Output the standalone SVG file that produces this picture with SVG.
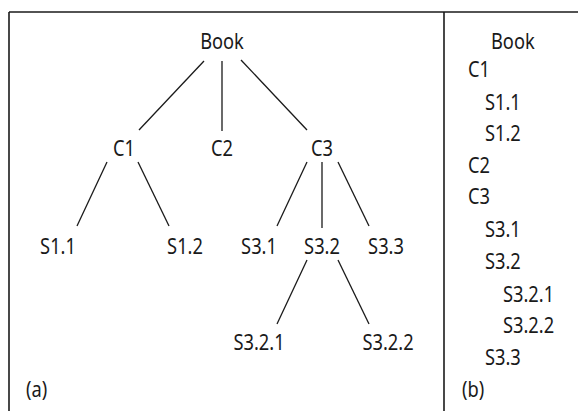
<svg xmlns="http://www.w3.org/2000/svg" width="578" height="411" viewBox="0 0 578 411">
<style>
text{font-family:"Noto Sans","Open Sans",sans-serif;font-size:21px;fill:#1a1a1a}
.m{text-anchor:middle}
line{stroke:#1a1a1a;stroke-width:1.3}
.f{stroke-width:1.6}
</style>
<rect width="578" height="411" fill="#fff"/>
<g id="frame">
<line class="f" x1="9" y1="12" x2="578" y2="12"/>
<line class="f" x1="9" y1="12" x2="9" y2="411"/>
<line class="f" x1="444" y1="12" x2="444" y2="411"/>
</g>
<g id="connectors">
<line x1="204" y1="61" x2="139" y2="130"/>
<line x1="222" y1="61" x2="222" y2="131"/>
<line x1="241" y1="60" x2="307" y2="130"/>
<line x1="107" y1="162" x2="77" y2="226"/>
<line x1="138" y1="162" x2="169" y2="226"/>
<line x1="307" y1="162" x2="277" y2="226"/>
<line x1="322" y1="162" x2="322" y2="228"/>
<line x1="338" y1="162" x2="369" y2="226"/>
<line x1="307" y1="260" x2="277" y2="324"/>
<line x1="338" y1="260" x2="369" y2="324"/>
</g>
<g id="book"><text class="m" transform="translate(222 49) scale(.87 1)">Book</text></g>
<g id="c1"><text class="m" transform="translate(124 156) scale(.87 1)">C1</text></g>
<g id="c2"><text class="m" transform="translate(222 156) scale(.87 1)">C2</text></g>
<g id="c3"><text class="m" transform="translate(322 156) scale(.87 1)">C3</text></g>
<g id="s1_1"><text class="m" transform="translate(58 254) scale(.87 1)">S1.1</text></g>
<g id="s1_2"><text class="m" transform="translate(185 254) scale(.87 1)">S1.2</text></g>
<g id="s3_1"><text class="m" transform="translate(259 254) scale(.87 1)">S3.1</text></g>
<g id="s3_2"><text class="m" transform="translate(322 254) scale(.87 1)">S3.2</text></g>
<g id="s3_3"><text class="m" transform="translate(386 254) scale(.87 1)">S3.3</text></g>
<g id="s3_2_1"><text class="m" transform="translate(259 350) scale(.87 1)">S3.2.1</text></g>
<g id="s3_2_2"><text class="m" transform="translate(388 350) scale(.87 1)">S3.2.2</text></g>
<g id="labels">
<text transform="translate(26 397) scale(.87 1)">(a)</text>
<text transform="translate(462 397) scale(.87 1)">(b)</text>
</g>
<g id="outline">
<text transform="translate(491 49) scale(.87 1)">Book</text>
<text transform="translate(468 77) scale(.87 1)">C1</text>
<text transform="translate(485 110) scale(.87 1)">S1.1</text>
<text transform="translate(485 141) scale(.87 1)">S1.2</text>
<text transform="translate(468 173) scale(.87 1)">C2</text>
<text transform="translate(468 204) scale(.87 1)">C3</text>
<text transform="translate(485 237) scale(.87 1)">S3.1</text>
<text transform="translate(485 269) scale(.87 1)">S3.2</text>
<text transform="translate(503 302) scale(.87 1)">S3.2.1</text>
<text transform="translate(503 333) scale(.87 1)">S3.2.2</text>
<text transform="translate(485 365) scale(.87 1)">S3.3</text>
</g>
</svg>
